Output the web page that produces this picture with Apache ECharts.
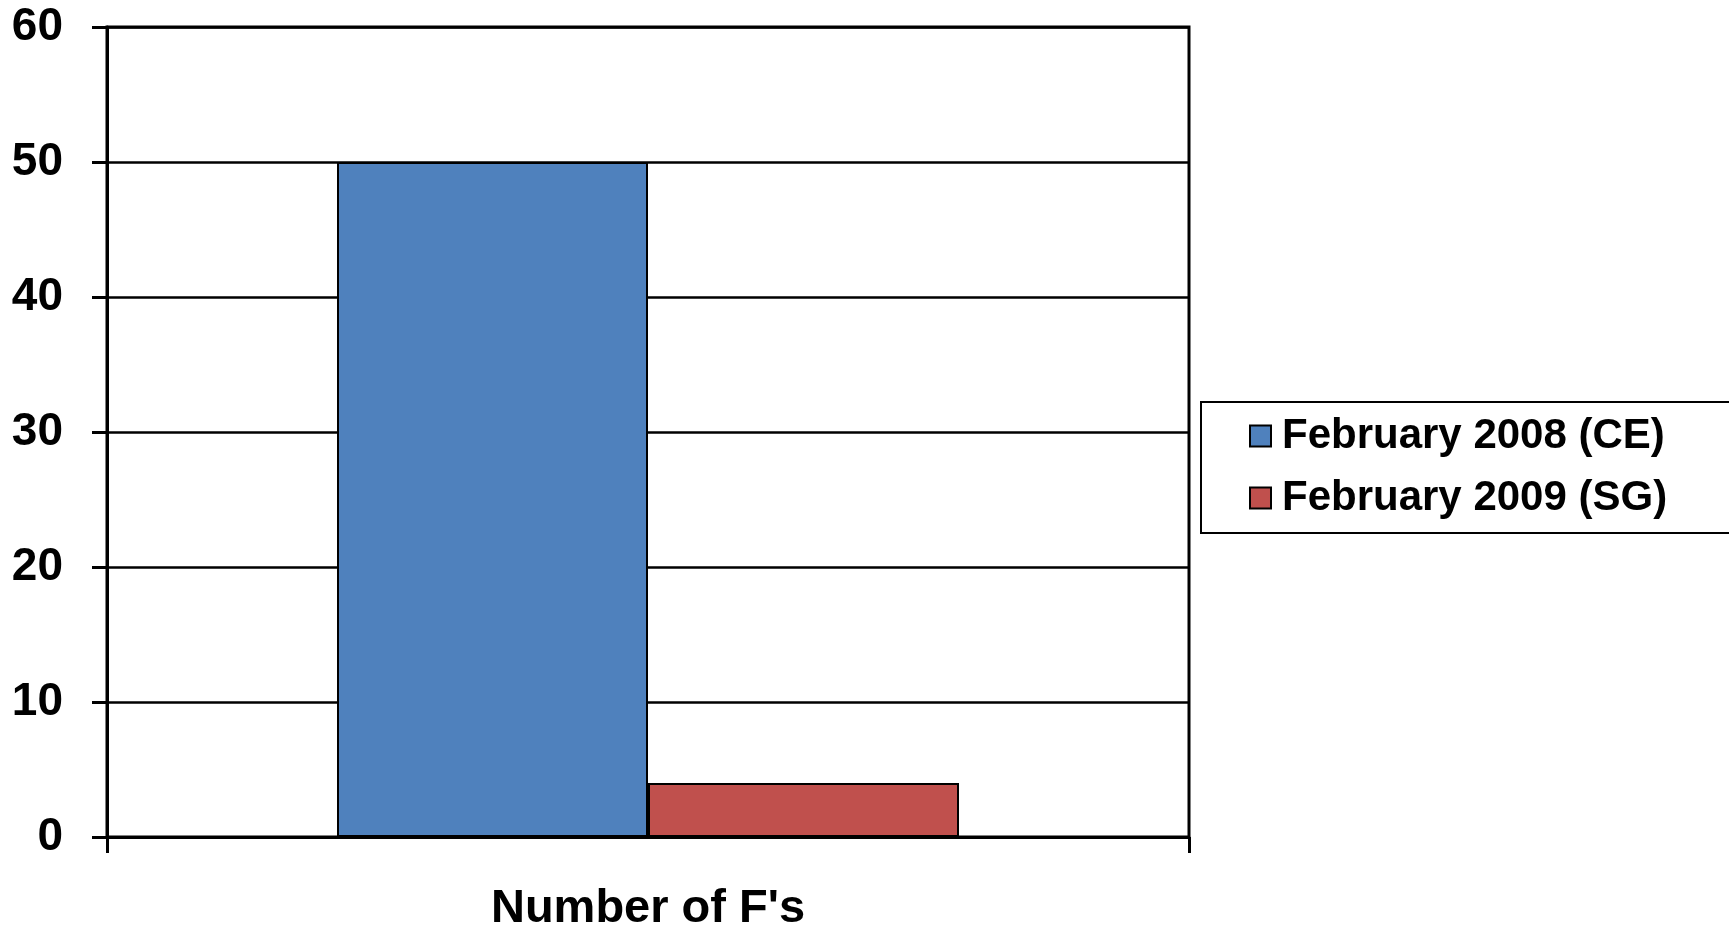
<!DOCTYPE html>
<html>
<head>
<meta charset="utf-8">
<script src="https://cdn.jsdelivr.net/npm/echarts@6/dist/echarts.min.js"></script>
<style>
html,body{margin:0;padding:0;background:#fff;}
#chart{width:1729px;height:929px;}
</style>
</head>
<body>
<div id="chart"></div>
<script>
const categories = ["Number of F's"];
const seriesNames = ["February 2008 (CE)", "February 2009 (SG)"];
const valuesCE = [50];
const valuesSG = [4];
const yTicks = [0, 10, 20, 30, 40, 50, 60];

const chart = echarts.init(document.getElementById('chart'), null, {renderer: 'canvas'});
const font = "'Liberation Sans', Arial, sans-serif";
chart.setOption({
  animation: false,
  backgroundColor: '#ffffff',
  grid: {
    left: 107, right: 540, top: 27, bottom: 92,
    containLabel: false, outerBoundsMode: 'none',
    show: true, borderColor: '#000', borderWidth: 3, backgroundColor: 'transparent'
  },
  legend: {
    orient: 'vertical',
    left: 1201, top: 402,
    padding: [13, 80, 14, 48],
    itemGap: 20,
    itemWidth: 21, itemHeight: 21,
    icon: 'rect',
    borderColor: '#000', borderWidth: 2,
    data: seriesNames,
    textStyle: {fontFamily: font, fontWeight: 'bold', fontSize: 42, color: '#000', lineHeight: 42, padding: [0,0,0,6]}
  },
  xAxis: {
    type: 'category',
    data: categories,
    axisLine: {lineStyle: {color: '#000', width: 3}},
    axisTick: {show: true, length: 16, lineStyle: {color: '#000', width: 3}},
    axisLabel: {fontFamily: font, fontWeight: 'bold', fontSize: 47, color: '#000', margin: 49},
    splitLine: {show: false}
  },
  yAxis: {
    type: 'value',
    min: yTicks[0], max: yTicks[yTicks.length-1], interval: 10,
    axisLine: {show: true, lineStyle: {color: '#000', width: 3}},
    axisTick: {show: true, length: 15, lineStyle: {color: '#000', width: 3}},
    axisLabel: {fontFamily: font, fontWeight: 'bold', fontSize: 46, color: '#000', margin: 44},
    splitLine: {show: true, lineStyle: {color: '#000', width: 2.5}}
  },
  series: [
    {
      name: seriesNames[0], type: 'bar', data: valuesCE,
      barWidth: 311, barGap: '0%',
      itemStyle: {color: '#4F81BD', borderColor: '#000', borderWidth: 2}
    },
    {
      name: seriesNames[1], type: 'bar', data: valuesSG,
      barWidth: 311,
      itemStyle: {color: '#C0504D', borderColor: '#000', borderWidth: 2}
    }
  ]
});
</script>
</body>
</html>
